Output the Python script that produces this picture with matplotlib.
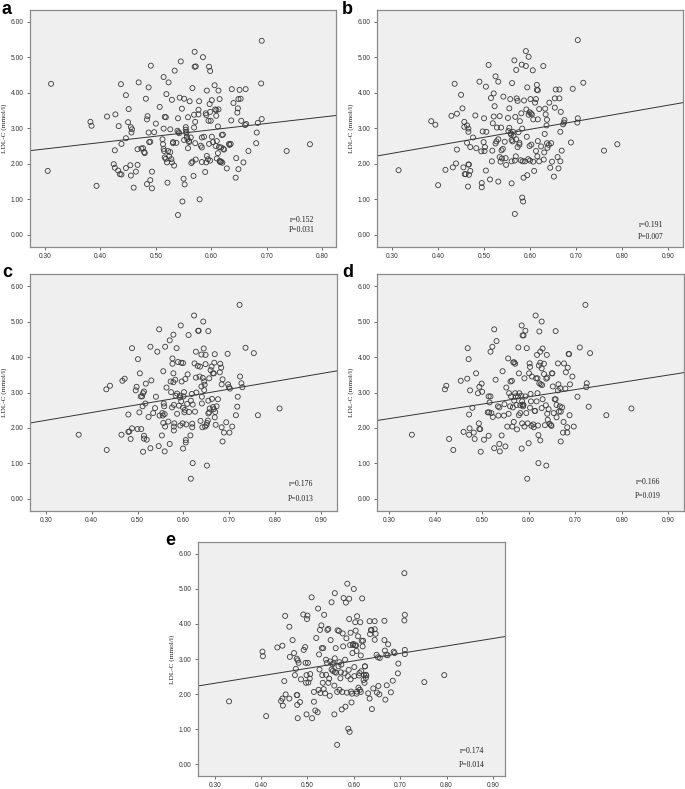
import matplotlib
matplotlib.use("Agg")
import matplotlib.pyplot as plt
import numpy as np

# ---------------- data ----------------
a_x = [0.311,0.305,0.382,0.384,0.393,0.412,0.427,0.426,0.424,0.426,0.432,0.435,0.438,0.433,0.437,0.438,0.446,0.446,0.446,0.451,
       0.450,0.455,0.457,0.456,0.454,0.455,0.460,0.464,0.467,0.467,0.469,0.474,0.477,0.479,0.480,0.482,0.484,0.485,0.487,0.487,
       0.484,0.490,0.488,0.490,0.491,0.493,0.493,0.497,0.500,0.507,0.514,0.514,0.512,0.513,0.514,0.515,0.516,0.518,0.516,0.518,
       0.519,0.521,0.520,0.522,0.523,0.524,0.526,0.526,0.528,0.529,0.529,0.531,0.531,0.533,0.534,0.537,0.539,0.540,0.540,0.541,
       0.542,0.543,0.545,0.547,0.548,0.550,0.551,0.551,0.552,0.554,0.554,0.555,0.555,0.556,0.557,0.558,0.558,0.560,0.560,0.561,
       0.563,0.564,0.566,0.566,0.568,0.569,0.569,0.570,0.570,0.572,0.571,0.571,0.572,0.577,0.577,0.578,0.579,0.581,0.583,0.583,
       0.583,0.585,0.587,0.589,0.590,0.591,0.591,0.592,0.592,0.594,0.596,0.596,0.595,0.597,0.598,0.598,0.598,0.599,0.601,0.601,
       0.603,0.606,0.607,0.608,0.609,0.610,0.609,0.610,0.612,0.612,0.613,0.613,0.614,0.615,0.615,0.616,0.618,0.618,0.619,0.620,
       0.621,0.622,0.623,0.628,0.632,0.633,0.635,0.636,0.637,0.640,0.644,0.645,0.647,0.648,0.649,0.649,0.651,0.653,0.654,0.658,
       0.661,0.662,0.663,0.667,0.681,0.682,0.684,0.690,0.691,0.691,0.736,0.778]
a_y = [4.25,1.80,3.18,3.07,1.38,3.33,3.39,2.38,1.99,1.89,1.81,1.71,1.70,3.06,4.24,2.56,3.93,2.72,1.88,3.54,
       3.17,3.03,2.97,2.88,1.96,1.67,1.33,1.78,1.97,2.41,4.29,2.43,2.44,2.33,2.30,3.83,3.25,3.34,4.15,2.88,
       1.43,1.54,2.61,2.62,4.76,1.78,1.31,2.89,3.13,3.60,4.44,2.99,2.69,2.55,2.42,2.36,3.32,3.31,2.18,2.14,
       3.96,1.47,2.04,2.36,4.29,2.21,2.97,2.33,2.13,3.80,2.04,2.58,2.61,1.95,4.62,2.59,2.93,3.28,0.56,2.89,
       2.86,3.86,4.88,3.55,0.94,1.58,3.83,2.67,1.42,3.03,2.96,2.90,2.86,2.76,2.69,2.44,3.31,2.64,2.61,3.76,
       2.74,2.02,4.13,2.06,1.66,3.38,3.02,4.73,5.15,4.74,3.18,2.58,2.12,3.52,3.39,3.76,1.00,2.51,2.46,2.05,
       2.74,5.00,2.76,1.77,3.42,3.37,2.04,4.06,2.22,2.13,2.56,4.73,3.21,3.68,3.46,2.09,4.61,3.21,2.76,3.79,
       2.61,4.21,3.53,2.50,3.51,2.64,3.35,2.15,3.05,2.30,4.06,3.53,2.47,3.82,2.08,2.05,2.46,2.06,2.81,2.03,
       2.82,2.42,2.40,1.87,2.56,2.53,2.56,3.22,4.10,3.71,1.61,2.16,3.44,3.56,1.85,3.82,4.08,3.83,3.21,2.04,
       3.09,4.10,3.12,2.36,2.58,2.88,3.15,4.26,5.46,3.26,2.36,2.55]

b_x = [0.314,0.385,0.394,0.400,0.416,0.429,0.432,0.436,0.439,0.441,0.441,0.450,0.453,0.457,0.455,0.457,0.458,0.460,0.463,0.463,
       0.466,0.466,0.466,0.467,0.467,0.465,0.470,0.470,0.476,0.481,0.483,0.490,0.494,0.495,0.495,0.497,0.499,0.500,0.501,0.502,
       0.504,0.505,0.504,0.510,0.513,0.515,0.517,0.518,0.519,0.521,0.521,0.523,0.525,0.525,0.527,0.528,0.531,0.531,0.531,0.534,
       0.534,0.536,0.537,0.538,0.539,0.541,0.542,0.545,0.547,0.548,0.552,0.553,0.555,0.555,0.557,0.558,0.559,0.560,0.560,0.560,
       0.561,0.562,0.563,0.564,0.566,0.567,0.567,0.568,0.569,0.570,0.570,0.571,0.573,0.573,0.575,0.577,0.577,0.578,0.580,0.581,
       0.582,0.583,0.583,0.584,0.585,0.586,0.587,0.589,0.591,0.591,0.592,0.593,0.594,0.594,0.596,0.597,0.597,0.599,0.599,0.600,
       0.601,0.602,0.603,0.604,0.606,0.607,0.607,0.609,0.611,0.613,0.613,0.615,0.615,0.616,0.617,0.617,0.617,0.620,0.620,0.624,
       0.629,0.630,0.631,0.632,0.633,0.634,0.636,0.637,0.637,0.638,0.641,0.642,0.644,0.646,0.648,0.652,0.654,0.654,0.656,0.660,
       0.662,0.664,0.664,0.666,0.666,0.667,0.669,0.672,0.674,0.675,0.689,0.693,0.703,0.704,0.704,0.716,0.761,0.790]
b_y = [1.82,3.20,3.10,1.40,1.83,3.35,1.90,4.25,2.01,3.41,2.40,3.94,3.56,3.18,1.90,3.04,1.71,1.71,2.59,3.08,
       2.99,2.90,1.98,1.98,1.69,1.36,1.80,2.47,2.74,3.36,2.44,4.31,2.35,1.46,1.34,2.91,2.61,3.28,2.36,2.47,
       4.17,2.90,1.81,4.78,1.56,3.85,2.07,2.37,3.14,3.98,3.33,3.62,4.46,2.57,2.63,3.02,4.31,1.50,2.69,3.34,
       2.19,2.06,3.02,2.38,2.15,2.42,3.89,2.62,2.16,1.97,3.29,2.92,3.56,3.01,3.82,2.86,2.82,2.67,1.45,2.07,
       4.27,2.63,2.90,2.79,4.91,2.09,0.59,3.32,2.21,2.69,4.64,3.84,3.77,2.47,2.89,2.59,2.54,3.20,2.10,3.42,
       4.79,2.99,1.05,2.07,0.94,1.61,3.78,2.07,4.75,5.17,3.53,2.76,1.68,4.15,2.13,5.01,3.38,3.45,2.50,2.09,
       3.82,3.42,2.54,3.39,4.63,2.06,3.25,1.80,3.72,3.82,2.36,4.22,4.08,2.21,4.07,2.64,3.25,3.54,2.07,2.49,
       4.75,2.12,2.32,2.84,3.55,3.39,3.08,2.58,3.24,2.45,2.53,3.72,1.89,2.58,2.06,1.64,3.58,3.84,4.09,2.19,
       1.87,3.84,4.09,2.07,2.90,3.46,2.37,3.11,3.16,3.23,2.60,4.11,3.16,3.28,5.48,4.28,2.37,2.55]

c_x = [0.372,0.432,0.440,0.433,0.467,0.472,0.480,0.480,0.482,0.465,0.485,0.488,0.488,0.496,0.498,0.500,0.501,0.504,0.505,0.507,
       0.508,0.510,0.511,0.512,0.512,0.514,0.514,0.514,0.517,0.518,0.520,0.524,0.528,0.528,0.530,0.534,0.538,0.540,0.543,0.546,
       0.547,0.548,0.553,0.554,0.555,0.556,0.556,0.557,0.558,0.559,0.559,0.560,0.560,0.563,0.567,0.570,0.570,0.572,0.573,0.575,
       0.576,0.576,0.578,0.578,0.578,0.579,0.579,0.579,0.580,0.582,0.583,0.585,0.586,0.586,0.588,0.590,0.592,0.593,0.593,0.594,
       0.595,0.595,0.596,0.598,0.599,0.599,0.599,0.600,0.601,0.602,0.603,0.604,0.605,0.605,0.606,0.608,0.609,0.611,0.612,0.615,
       0.616,0.616,0.618,0.619,0.619,0.620,0.620,0.623,0.624,0.625,0.627,0.627,0.628,0.631,0.632,0.633,0.635,0.636,0.637,0.639,
       0.639,0.640,0.640,0.641,0.642,0.643,0.644,0.645,0.645,0.646,0.647,0.648,0.648,0.650,0.651,0.651,0.653,0.654,0.654,0.654,
       0.656,0.656,0.657,0.659,0.661,0.662,0.664,0.664,0.666,0.666,0.667,0.668,0.668,0.669,0.670,0.672,0.675,0.679,0.680,0.682,
       0.683,0.683,0.685,0.685,0.688,0.693,0.696,0.697,0.699,0.700,0.701,0.706,0.714,0.717,0.718,0.722,0.723,0.726,0.728,0.735,
       0.753,0.762,0.809]
c_y = [1.81,3.09,3.19,1.38,3.33,3.39,2.38,1.89,1.90,1.81,1.69,1.99,4.25,3.06,3.16,1.97,3.94,2.44,3.54,2.89,
       1.97,2.89,2.61,1.33,2.98,3.03,1.78,1.70,2.69,3.25,1.67,2.31,4.29,1.43,3.34,2.42,2.56,2.88,4.15,1.49,
       4.78,2.35,1.79,2.42,2.35,3.60,2.14,2.69,2.61,2.39,1.34,4.29,2.04,3.14,2.18,4.47,1.55,3.31,3.01,2.58,
       3.96,3.81,4.63,3.54,3.29,2.65,2.04,1.93,2.13,3.36,2.91,4.25,2.40,2.97,3.86,2.63,2.86,2.91,2.07,4.89,
       2.75,3.84,3.31,2.13,2.57,3.83,1.42,2.89,3.01,2.44,2.51,3.38,1.66,1.59,2.10,2.68,3.51,4.62,2.45,1.79,
       0.57,2.77,2.96,2.12,2.02,2.66,1.01,5.17,3.82,2.46,4.15,3.42,3.00,3.75,4.74,4.74,3.45,3.73,2.20,4.07,
       3.17,2.88,2.69,2.02,3.41,5.00,4.24,3.31,3.07,3.22,2.04,3.80,4.06,2.08,2.14,0.94,2.21,4.73,2.77,2.41,
       2.44,3.40,2.55,3.63,3.73,2.82,2.59,3.54,2.53,3.54,3.84,4.08,2.30,2.45,2.09,2.61,2.81,3.57,3.81,3.70,
       3.23,2.02,1.62,3.37,1.87,2.16,4.09,3.23,3.15,1.87,3.11,2.04,2.36,2.60,2.88,5.47,3.45,3.26,3.15,4.26,
       4.11,2.36,2.55]

d_x = [0.349,0.420,0.423,0.429,0.438,0.454,0.460,0.468,0.469,0.471,0.472,0.472,0.473,0.474,0.479,0.482,0.484,0.487,0.491,0.493,
       0.494,0.494,0.496,0.497,0.499,0.500,0.504,0.512,0.514,0.514,0.515,0.516,0.518,0.518,0.520,0.522,0.523,0.526,0.526,0.529,
       0.531,0.534,0.535,0.537,0.537,0.538,0.542,0.544,0.547,0.548,0.550,0.552,0.554,0.556,0.557,0.558,0.560,0.561,0.562,0.564,
       0.565,0.566,0.567,0.568,0.569,0.569,0.571,0.571,0.572,0.574,0.575,0.577,0.578,0.579,0.579,0.580,0.582,0.582,0.584,0.585,
       0.585,0.586,0.586,0.587,0.587,0.588,0.589,0.589,0.591,0.591,0.593,0.593,0.595,0.596,0.597,0.598,0.600,0.601,0.602,0.603,
       0.603,0.604,0.605,0.606,0.607,0.610,0.611,0.613,0.614,0.615,0.616,0.617,0.618,0.619,0.619,0.620,0.621,0.621,0.622,0.623,
       0.623,0.625,0.625,0.625,0.626,0.628,0.628,0.628,0.629,0.630,0.630,0.633,0.633,0.635,0.637,0.638,0.638,0.639,0.640,0.640,
       0.641,0.643,0.645,0.648,0.649,0.650,0.651,0.652,0.654,0.656,0.658,0.658,0.660,0.660,0.663,0.663,0.664,0.665,0.667,0.668,
       0.669,0.669,0.672,0.674,0.675,0.676,0.679,0.680,0.683,0.683,0.684,0.686,0.687,0.688,0.689,0.694,0.697,0.705,0.710,0.722,
       0.724,0.725,0.729,0.732,0.767,0.821]
d_y = [1.81,3.09,3.19,1.69,1.38,3.33,1.89,3.39,4.25,3.94,2.38,1.81,1.99,3.06,2.57,1.87,1.69,3.54,2.98,2.13,
       3.16,1.97,1.97,1.33,3.25,3.02,1.67,2.44,1.78,2.89,2.44,2.72,4.15,2.89,2.42,4.29,2.31,4.78,1.43,3.36,
       4.45,2.61,2.35,2.58,1.55,1.34,1.79,3.60,2.35,2.67,1.48,3.14,2.04,3.96,2.40,2.98,2.61,3.31,2.89,3.33,
       2.04,2.58,3.85,2.17,2.77,3.85,2.98,3.81,2.89,2.65,1.96,2.89,4.27,3.54,2.36,2.98,2.42,2.64,2.91,4.89,
       1.42,2.13,2.75,2.66,4.61,2.61,4.61,2.65,3.40,2.04,4.74,2.89,2.42,4.25,0.57,2.13,1.57,3.54,3.82,2.57,
       3.72,2.96,2.75,2.06,3.45,2.10,2.02,2.48,2.48,5.17,3.40,2.75,4.06,2.98,3.40,2.07,1.80,1.01,3.76,4.72,
       3.26,3.84,4.15,1.65,3.23,3.68,2.56,5.00,3.21,2.81,4.24,3.52,3.81,2.08,2.64,0.94,3.39,4.06,3.42,2.40,
       2.23,2.53,2.12,2.08,2.06,3.54,3.54,3.17,2.42,2.81,2.81,4.73,2.65,2.30,3.82,3.06,3.23,2.46,2.61,3.12,
       1.62,2.46,2.58,1.87,2.17,3.82,3.11,3.57,2.02,1.87,3.70,4.09,4.08,2.36,3.23,3.45,2.04,2.88,4.27,5.47,
       3.15,3.26,2.60,4.11,2.36,2.55]

e_x = [0.331,0.403,0.404,0.411,0.435,0.446,0.446,0.447,0.450,0.452,0.453,0.443,0.461,0.461,0.462,0.468,0.471,0.473,0.475,0.477,
       0.477,0.478,0.478,0.479,0.479,0.481,0.484,0.486,0.491,0.492,0.495,0.496,0.497,0.498,0.498,0.499,0.500,0.501,0.502,0.505,
       0.506,0.509,0.510,0.514,0.514,0.517,0.519,0.522,0.523,0.524,0.525,0.526,0.527,0.528,0.530,0.531,0.532,0.533,0.534,0.535,
       0.536,0.538,0.540,0.540,0.542,0.543,0.545,0.545,0.547,0.548,0.549,0.550,0.552,0.552,0.554,0.555,0.556,0.558,0.558,0.559,
       0.559,0.559,0.561,0.562,0.564,0.564,0.565,0.567,0.568,0.569,0.569,0.571,0.572,0.573,0.574,0.575,0.576,0.577,0.578,0.580,
       0.581,0.582,0.583,0.584,0.585,0.586,0.587,0.588,0.589,0.590,0.590,0.591,0.592,0.593,0.593,0.594,0.595,0.596,0.597,0.598,
       0.599,0.600,0.601,0.601,0.603,0.603,0.604,0.605,0.606,0.606,0.607,0.607,0.609,0.610,0.611,0.612,0.613,0.614,0.615,0.615,
       0.616,0.617,0.618,0.619,0.620,0.621,0.622,0.623,0.624,0.624,0.626,0.626,0.627,0.631,0.634,0.634,0.635,0.637,0.638,0.639,
       0.642,0.645,0.645,0.645,0.647,0.649,0.650,0.652,0.653,0.655,0.656,0.666,0.666,0.667,0.668,0.670,0.671,0.673,0.674,0.680,
       0.684,0.686,0.688,0.696,0.709,0.709,0.710,0.710,0.710,0.695,0.752,0.795]
e_y = [1.79,3.21,3.08,1.37,3.33,3.38,1.87,1.67,2.37,4.23,1.99,1.80,3.92,1.87,3.06,3.54,3.17,2.54,2.72,3.01,
       1.97,1.97,1.69,1.31,2.96,2.89,1.77,2.42,4.27,3.26,3.34,2.89,2.32,1.42,2.54,4.14,4.24,2.89,2.33,2.44,
       2.57,4.76,1.31,2.06,1.78,1.53,3.60,1.48,4.44,2.12,3.13,2.70,3.83,2.03,3.96,3.31,2.54,2.32,3.31,2.14,
       4.26,2.02,2.98,2.55,2.89,3.83,2.32,3.86,2.44,1.95,2.93,3.54,2.70,4.62,2.85,2.66,2.88,2.24,1.42,4.88,
       3.02,2.63,3.31,2.61,0.55,2.06,3.82,2.79,3.80,2.12,2.91,2.45,2.62,2.84,1.56,2.06,3.73,3.36,4.74,2.59,
       2.98,1.64,4.61,3.59,2.04,5.15,2.51,1.01,2.69,4.14,4.72,0.92,3.40,3.75,2.42,2.07,1.76,2.01,3.17,3.40,
       3.43,5.00,2.51,2.77,4.05,3.39,3.81,3.39,3.23,2.01,2.07,4.22,3.65,2.18,2.53,2.60,2.12,4.05,3.10,2.06,
       2.65,3.52,4.73,3.36,3.52,2.40,2.55,2.32,2.79,2.79,2.46,2.55,2.53,2.02,1.87,4.08,3.71,3.83,3.82,1.57,
       2.16,3.55,3.85,4.08,3.72,3.12,2.04,3.05,2.23,1.99,3.03,3.54,4.09,3.24,1.84,3.12,2.25,3.11,3.42,2.05,
       2.38,3.21,3.17,2.87,5.45,4.10,4.26,3.26,3.14,2.59,2.34,2.54]

panel_labels = ["a", "b", "c", "d", "e"]
r_text = ["r=0.152", "r=0.191", "r=0.176", "r=0.166", "r=0.174"]
p_text = ["P=0.031", "P=0.007", "P=0.013", "P=0.019", "P=0.014"]
# fitted regression lines (intercept, slope) as drawn in the reference
fit_intercept = [1.880, 1.619, 1.555, 1.650, 1.668]
fit_slope = [1.793, 2.252, 2.200, 2.045, 2.130]
x_ticks_a = [0.30, 0.40, 0.50, 0.60, 0.70, 0.80]
x_ticks_other = [0.30, 0.40, 0.50, 0.60, 0.70, 0.80, 0.90]
y_ticks = [0.0, 1.0, 2.0, 3.0, 4.0, 5.0, 6.0]
y_label = "LDL-C (mmol/l)"

# ---------------- layout ----------------
W, H = 685, 789
fig = plt.figure(figsize=(W / 100, H / 100), dpi=100)
fig.patch.set_facecolor("white")

def rect(l, r, t, b):
    return [l / W, 1 - b / H, (r - l) / W, (b - t) / H]

axes_rects = [rect(30, 336, 9.5, 247), rect(377, 683, 9.5, 247),
              rect(30, 337, 274, 511), rect(377, 684, 274, 511),
              rect(198, 505, 542, 776)]
xlims = [(0.273, 0.825), (0.267, 0.933), (0.266, 0.934), (0.274, 0.934), (0.264, 0.926)]
letter_pos = [(2, 14), (342, 14), (2, 277), (342, 277), (165, 545)]
text_pos = [(0.889, 0.114, 0.072), (0.895, 0.093, 0.042), (0.883, 0.114, 0.051),
            (0.883, 0.122, 0.063), (0.892, 0.107, 0.047)]

xs = [a_x, b_x, c_x, d_x, e_x]
ys = [a_y, b_y, c_y, d_y, e_y]

serif = ["Liberation Serif", "DejaVu Serif"]
sans = ["Liberation Sans", "DejaVu Sans"]

for i in range(5):
    ax = fig.add_axes(axes_rects[i])
    ax.set_facecolor("#efefef")
    ax.scatter(xs[i], ys[i], s=13, facecolors="none", edgecolors="#3a3a3a", linewidths=0.6, zorder=3)
    lo, hi = xlims[i]
    lx = np.array([lo, hi])
    ax.plot(lx, fit_intercept[i] + fit_slope[i] * lx, color="#333333", lw=0.7, zorder=2)
    ax.set_xlim(lo, hi)
    ax.set_ylim(-0.34, 6.34)
    ticks = x_ticks_a if i == 0 else x_ticks_other
    ax.set_xticks(ticks)
    ax.set_xticklabels([f"{t:.2f}" for t in ticks], fontsize=4.8, family=sans, color="#333333")
    ax.set_yticks(y_ticks)
    ax.set_yticklabels([f"{t:.2f}" for t in y_ticks], fontsize=4.8, family=sans, color="#333333")
    ax.tick_params(axis="both", length=2.5, width=0.6, color="#555555", pad=2)
    for sp in ax.spines.values():
        sp.set_color("#8a8a8a")
        sp.set_linewidth(0.9)
    ax.set_ylabel(y_label, fontsize=5.2, family=serif, color="#222222", labelpad=3)
    tx, ry, py = text_pos[i]
    ax.text(tx, ry, r_text[i], transform=ax.transAxes, ha="center", va="center",
            fontsize=5.6, family=serif, color="#222222")
    ax.text(tx, py, p_text[i], transform=ax.transAxes, ha="center", va="center",
            fontsize=5.6, family=serif, color="#222222")
    lxp, lyp = letter_pos[i]
    fig.text(lxp / W, 1 - lyp / H, panel_labels[i], fontsize=13, fontweight="bold",
             family=sans, ha="left", va="baseline", color="black")

fig.savefig("out.png", dpi=100, facecolor="white")
